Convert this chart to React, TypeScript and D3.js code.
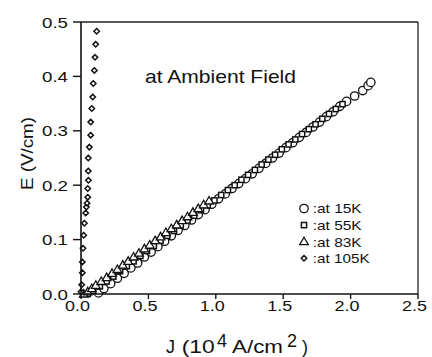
import React from "react";
import * as d3 from "d3";

const xTicks = [0, 0.5, 1.0, 1.5, 2.0, 2.5];
const yTicks = [0, 0.1, 0.2, 0.3, 0.4, 0.5];

const j15 = [0.13,0.17,0.22,0.27,0.32,0.37,0.42,0.47,0.52,0.57,0.62,0.67,0.72,0.77,0.82,0.87,0.92,0.97,1.02,1.07,1.12,1.17,1.22,1.27,1.32,1.37,1.42,1.47,1.52,1.57,1.62,1.67,1.72,1.77,1.82,1.87,1.92,1.97,2.03,2.09,2.13,2.15];
const e15 = [0.002,0.010,0.019,0.029,0.038,0.048,0.057,0.068,0.077,0.087,0.097,0.107,0.117,0.126,0.136,0.146,0.155,0.165,0.175,0.184,0.194,0.203,0.212,0.221,0.231,0.240,0.250,0.259,0.269,0.278,0.288,0.297,0.307,0.316,0.326,0.335,0.345,0.354,0.364,0.374,0.383,0.389];

const j55 = [0.05,0.09,0.14,0.19,0.24,0.29,0.34,0.39,0.44,0.49,0.54,0.59,0.64,0.69,0.74,0.79,0.84,0.89,0.94,0.99,1.04,1.09,1.14,1.19,1.24,1.29,1.34,1.39,1.44,1.49,1.54,1.59,1.64,1.69,1.74,1.79,1.84,1.89,1.94];
const e55 = [0.000,0.006,0.014,0.023,0.032,0.042,0.051,0.060,0.070,0.079,0.088,0.098,0.107,0.116,0.126,0.135,0.144,0.154,0.163,0.172,0.182,0.191,0.200,0.210,0.219,0.228,0.238,0.247,0.256,0.266,0.275,0.284,0.294,0.303,0.312,0.322,0.331,0.340,0.349];

const j83 = [0.02,0.05,0.08,0.11,0.15,0.19,0.23,0.27,0.31,0.35,0.39,0.43,0.47,0.51,0.55,0.59,0.63,0.67,0.71,0.75,0.79,0.83,0.87,0.91,0.95];
const e83 = [0.000,0.004,0.010,0.016,0.023,0.030,0.038,0.045,0.053,0.060,0.068,0.075,0.083,0.090,0.098,0.105,0.113,0.120,0.127,0.135,0.142,0.150,0.157,0.164,0.171];

const j105 = [0.0,0.005,0.01,0.01,0.015,0.02,0.025,0.035,0.04,0.045,0.05,0.05,0.055,0.054,0.054,0.062,0.072,0.072,0.080,0.087,0.091,0.099,0.104,0.109,0.116];
const e105 = [0.004,0.017,0.039,0.059,0.084,0.108,0.130,0.149,0.160,0.167,0.178,0.194,0.209,0.226,0.250,0.270,0.292,0.316,0.341,0.362,0.387,0.411,0.435,0.459,0.483];

const legendLabels = [":at 15K", ":at 55K", ":at 83K", ":at 105K"];

const W = 432, H = 357;
const left = 81, right = 418, top = 22, bottom = 294;

const x = d3.scaleLinear().domain([0, 2.5]).range([left, right]);
const y = d3.scaleLinear().domain([0, 0.5]).range([bottom, top]);

const font = "Liberation Sans, Arial, Helvetica, sans-serif";

function Marker({ kind, cx, cy }: { kind: string; cx: number; cy: number }) {
  const s = { fill: "white", stroke: "#111", strokeWidth: 1.3 } as any;
  if (kind === "circle") return <circle cx={cx} cy={cy} r={4.2} {...s} />;
  if (kind === "square") return <rect x={cx - 2.6} y={cy - 2.6} width={5.2} height={5.2} {...s} strokeWidth={1.5} />;
  if (kind === "triangle") {
    const p = d3.path();
    p.moveTo(cx, cy - 4.5); p.lineTo(cx + 4.3, cy + 3); p.lineTo(cx - 4.3, cy + 3); p.closePath();
    return <path d={p.toString()} {...s} />;
  }
  const p = d3.path();
  p.moveTo(cx, cy - 2.7); p.lineTo(cx + 2.7, cy); p.lineTo(cx, cy + 2.7); p.lineTo(cx - 2.7, cy); p.closePath();
  return <path d={p.toString()} {...s} strokeWidth={1.5} />;
}

export default function App() {
  const series = [
    { kind: "circle", j: j15, e: e15 },
    { kind: "square", j: j55, e: e55 },
    { kind: "triangle", j: j83, e: e83 },
    { kind: "diamond", j: j105, e: e105 },
  ];
  const kinds = ["circle", "square", "triangle", "diamond"];
  return (
    <svg width={W} height={H} style={{ position: "absolute", left: 0, top: 0, background: "white" }}>
      <rect x={0} y={0} width={W} height={H} fill="white" />
      {series.map((s, si) =>
        s.j.map((jv, i) => <Marker key={si + "-" + i} kind={s.kind} cx={x(jv)} cy={y(s.e[i])} />)
      )}
      <line x1={left} y1={top} x2={right} y2={top} stroke="#222" strokeWidth={1.3} />
      <line x1={right} y1={top} x2={right} y2={bottom} stroke="#222" strokeWidth={1.3} />
      <line x1={left} y1={top} x2={left} y2={bottom + 1} stroke="#111" strokeWidth={1.6} />
      <line x1={left - 1} y1={bottom} x2={right} y2={bottom} stroke="#111" strokeWidth={1.6} />
      {xTicks.map((t) => (
        <g key={"x" + t}>
          <line x1={x(t)} x2={x(t)} y1={bottom} y2={bottom + 5} stroke="#111" strokeWidth={1.4} />
          <text x={x(t) - 16} y={311} textLength={25} lengthAdjust="spacingAndGlyphs" fontFamily={font} fontSize={15.5} fill="#111">{t.toFixed(1)}</text>
        </g>
      ))}
      {yTicks.map((t) => (
        <g key={"y" + t}>
          <line x1={left - 8} x2={left} y1={y(t)} y2={y(t)} stroke="#111" strokeWidth={1.4} />
          <text x={42} y={y(t) + 5.5} textLength={26} lengthAdjust="spacingAndGlyphs" fontFamily={font} fontSize={15.5} fill="#111">{t.toFixed(1)}</text>
        </g>
      ))}
      <text x={145} y={83.3} textLength={151} lengthAdjust="spacingAndGlyphs" fontFamily={font} fontSize={18.5} fill="#111">at Ambient Field</text>
      {legendLabels.map((l, i) => (
        <g key={l}>
          <Marker kind={kinds[i]} cx={304} cy={208.5 + i * 16.6} />
          <text x={312.7} y={213.3 + i * 16.6} textLength={l.length > 7 ? 57 : 49} lengthAdjust="spacingAndGlyphs" fontFamily={font} fontSize={12.8} fill="#111">{l}</text>
        </g>
      ))}
      <g fontFamily={font} fontSize={18} fill="#111">
        <text x={166} y={353.3}>J</text>
        <text x={181.7} y={353.3} textLength={33} lengthAdjust="spacingAndGlyphs">(10</text>
        <text x={217} y={346.7}>4</text>
        <text x={232} y={353.3} textLength={51} lengthAdjust="spacingAndGlyphs">A/cm</text>
        <text x={287} y={347}>2</text>
        <text x={302} y={353.3}>)</text>
      </g>
      <text transform={`translate(33,153.5) rotate(-90)`} textAnchor="middle" textLength={73} lengthAdjust="spacingAndGlyphs" fontFamily={font} fontSize={16} fill="#111">E (V/cm)</text>
    </svg>
  );
}
